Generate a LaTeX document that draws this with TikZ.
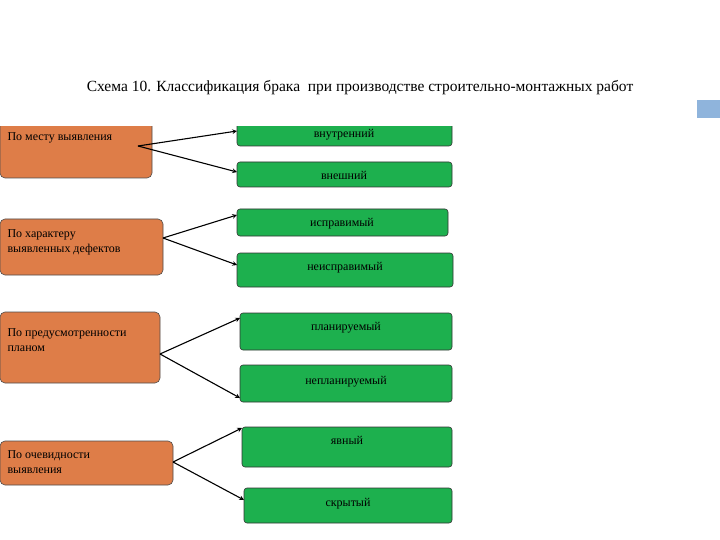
\documentclass[tikz,border=0pt]{standalone}
\usepackage{fontspec}
\setmainfont{Liberation Serif}
\definecolor{org}{HTML}{DE7D48}
\definecolor{grn}{HTML}{1DB04E}
\definecolor{blu}{HTML}{8FB4DC}
\begin{document}
\begin{tikzpicture}[x=1pt,y=-1pt,
 ob/.style={draw=black!70,fill=org,rounded corners=5pt,line width=0.6pt},
 gb/.style={draw=black!80,fill=grn,rounded corners=3pt,line width=0.6pt},
 lb/.style={font=\fontsize{12}{15}\selectfont,align=left,anchor=north west},
 gl/.style={font=\fontsize{12}{15}\selectfont,anchor=north},
 ar/.style={->,>=stealth,line width=1.1pt}]
\useasboundingbox (0,0) rectangle (720,540);
\node[font=\fontsize{15.5}{18}\selectfont] (title) at (360,88) {Схема 10. Классификация брака\ \ при производстве строительно-монтажных работ};
\fill[blu] (697,100) rectangle (720,118);
\begin{scope}
\clip (-5,127) rectangle (725,545);
\draw[ob] (0,115) rectangle (152,178); \draw[gb] (237,115) rectangle (452,146);
\end{scope}
\node[lb] (o1) at (4,129) {По месту выявления};
\node[gl] (g1) at (344,126) {внутренний};
\draw[gb] (237,162) rectangle (452,187); \node[gl] (g2) at (344,168) {внешний};
\draw[ob] (0,219) rectangle (163,275); \node[lb] (o2) at (4,226) {По характеру\\выявленных дефектов};
\draw[gb] (237,209) rectangle (448,236); \node[gl] (g3) at (342,215) {исправимый};
\draw[gb] (237,253) rectangle (453,287); \node[gl] (g4) at (345,259) {неисправимый};
\draw[ob] (0,312) rectangle (160,383); \node[lb] (o3) at (4,325) {По предусмотренности\\планом};
\draw[gb] (240,313) rectangle (452,350); \node[gl] (g5) at (346,319) {планируемый};
\draw[gb] (240,365) rectangle (452,402); \node[gl] (g6) at (346,373) {непланируемый};
\draw[ob] (0,441) rectangle (173,485); \node[lb] (o4) at (4,447) {По очевидности\\выявления};
\draw[gb] (242,427) rectangle (452,467); \node[gl] (g7) at (347,433) {явный};
\draw[gb] (244,488) rectangle (452,523); \node[gl] (g8) at (348,495) {скрытый};
\coordinate (s1) at (138,146); \coordinate (t1) at (237,131); \coordinate (t2) at (237,172);
\coordinate (s2) at (163,238); \coordinate (t3) at (237,215); \coordinate (t4) at (237,265);
\coordinate (s3) at (160,354); \coordinate (t5) at (240,318); \coordinate (t6) at (240,398);
\coordinate (s4) at (173,462); \coordinate (t7) at (242,428); \coordinate (t8) at (244,500);
\draw[ar] (s1)--(t1); \draw[ar] (s1)--(t2);
\draw[ar] (s2)--(t3); \draw[ar] (s2)--(t4);
\draw[ar] (s3)--(t5); \draw[ar] (s3)--(t6);
\draw[ar] (s4)--(t7); \draw[ar] (s4)--(t8);
\end{tikzpicture}
\end{document}
